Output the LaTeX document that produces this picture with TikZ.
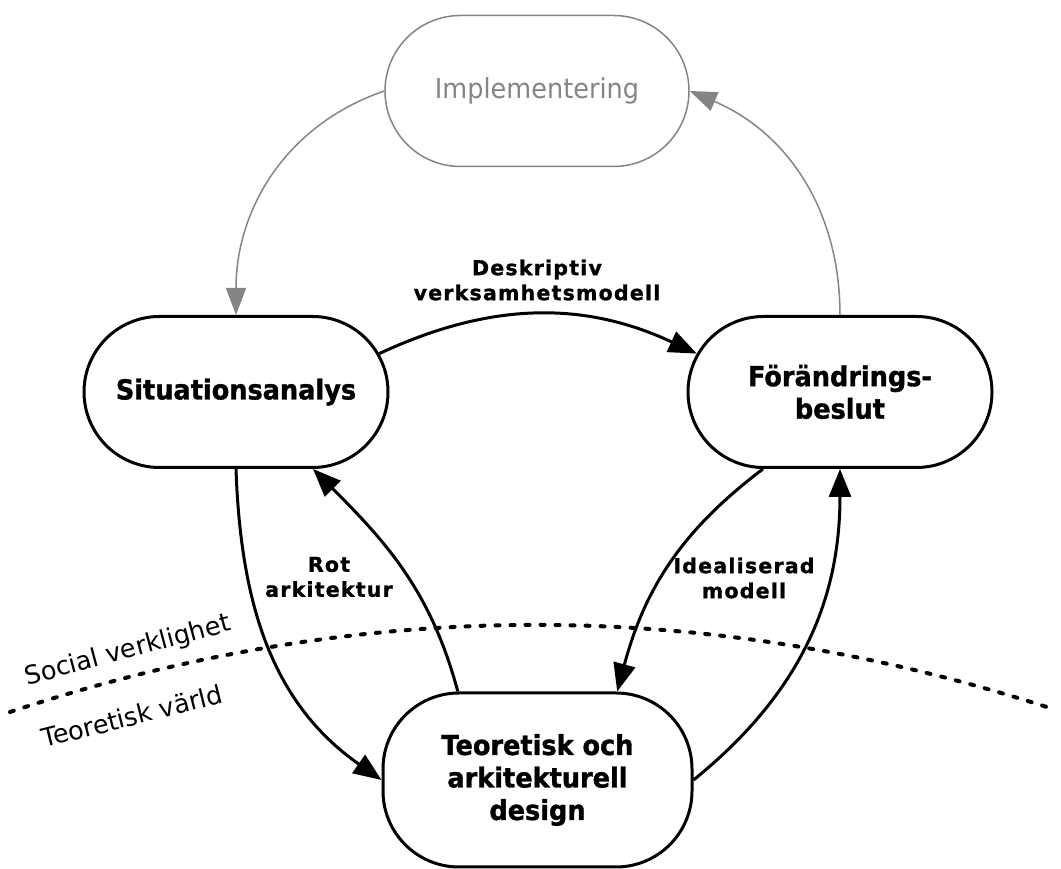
\documentclass[tikz,border=0pt]{standalone}
\usepackage{fontspec}
\setmainfont{DejaVu Sans}
\newfontfamily\stagefont[FakeStretch=0.93,BoldFeatures={FakeBold=1.2}]{DejaVu Sans}
\newfontfamily\spacedsans[LetterSpace=6,BoldFeatures={FakeBold=1.2}]{DejaVu Sans}
\usetikzlibrary{shapes.misc,arrows.meta}
\definecolor{softgray}{HTML}{858585}

\begin{document}
\begin{tikzpicture}[x=1pt,y=1pt,
  stage/.style={rounded rectangle, draw, line width=3pt, minimum width=304pt,
    minimum height=151pt, inner sep=0pt, align=center,
    font=\stagefont\bfseries\fontsize{27.5}{32.5}\selectfont},
  ghost/.style={stage, draw=softgray, text=softgray, line width=1.5pt,
    font=\stagefont\fontsize{27.5}{32.5}\selectfont},
  flow/.style={line width=3pt, -{Triangle[length=28pt,width=22pt]}},
  grayflow/.style={draw=softgray, line width=1.5pt,
    -{Triangle[length=27pt,width=20pt]}, softgray},
  edgelabel/.style={align=center, font=\spacedsans\bfseries\fontsize{20.5}{25}\selectfont},
  worldlabel/.style={inner sep=0pt, font=\fontsize{25.5}{28}\selectfont},
  border/.style={line width=4pt, dash pattern=on 4pt off 11pt, line cap=round}
]
% canvas
\fill[white] (0,0) rectangle (1061,869);
\useasboundingbox (0,0) rectangle (1061,869);

% boundary between the social and theoretical worlds
\coordinate (sl) at (10,157);
\coordinate (sr) at (1053,160);
\draw[border] (sl) .. controls (357.7,272.3) and (705.3,273) .. (sr);
\node[worldlabel, rotate=15] (social) at (128,218) {Social verklighet};
\node[worldlabel, rotate=14] (theory) at (132,153) {Teoretisk värld};

% stages
\node[ghost] (impl) at (537,778) {Implementering};
\node[stage] (sit) at (236,477) {Situationsanalys};
\node[stage] (dec) at (840,477) {Förändrings-\\beslut};
\node[draw, line width=3pt, rectangle, rounded corners=76pt, minimum width=309pt,
  minimum height=174pt, inner sep=0pt, align=center,
  font=\stagefont\bfseries\fontsize{27.5}{32.5}\selectfont] (teo) at (537.5,89)
  {Teoretisk och\\arkitekturell\\design};

% transitions
\draw[grayflow] (impl.west) to[out=199,in=90] (sit.north);
\draw[grayflow] (dec.north) to[out=90,in=-23] (impl.east);
\draw[flow] (sit.15) to[out=25,in=155] (dec.165);
\draw[flow] (sit.south) to[out=-88,in=145] (teo.west);
\draw[flow] (teo.132) to[out=105,in=-45] (sit.-45);
\draw[flow] (dec.-135) to[out=217,in=75] (teo.48.6);
\draw[flow] (teo.east) to[out=39,in=-90] (dec.south);

% transition labels
\node[edgelabel] (desc) at (537,589) {Deskriptiv\\verksamhetsmodell};
\node[edgelabel] (rot) at (329,292) {Rot\\arkitektur};
\node[edgelabel] (ideal) at (744,291) {Idealiserad\\modell};
\end{tikzpicture}
\end{document}
